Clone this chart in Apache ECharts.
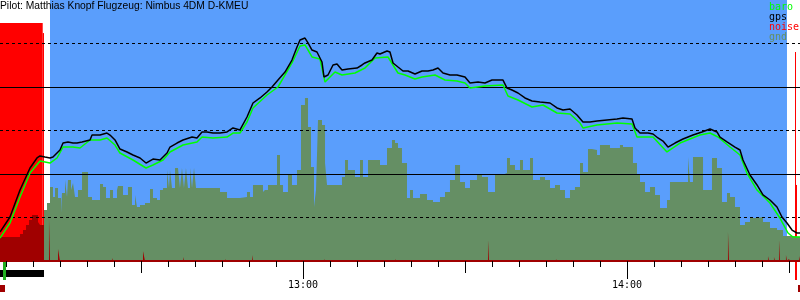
<!DOCTYPE html>
<html><head><meta charset="utf-8">
<script src="https://cdn.jsdelivr.net/npm/echarts@6/dist/echarts.min.js"></script>
<style>html,body{margin:0;padding:0;background:#fff}#c{width:800px;height:300px}</style>
</head><body><div id="c"></div>
<script>
// ---- data (time = minutes after 12:00, altitude in metres) ----
const titleText = 'Pilot: Matthias Knopf Flugzeug: Nimbus 4DM D-KMEU';
const legendNames = ['baro', 'gps', 'noise', 'gnd'];
const timeRange = [3.89, 152.04];
const minorTicks = [5,10,15,20,25,35,40,45,50,55,65,70,75,80,85,95,100,105,110,115,125,130,135,140,145];
const halfHourTicks = [30, 90, 150];
const hourTicks = [60, 120];
const hourLabels = ['13:00', '14:00'];
const altLabels = [1000, 2000];

const gpsTime = [3.89,5.74,7.59,9.45,10.74,11.30,12.22,13.15,13.70,15.00,
 15.56,16.48,17.41,18.15,19.08,20.56,20.93,22.41,23.70,24.26,
 25.19,26.11,27.41,28.52,29.82,30.93,32.22,33.52,34.82,35.37,
 36.67,37.78,39.45,40.37,41.30,42.22,43.33,44.63,45.93,47.04,
 48.33,49.63,50.74,52.04,53.33,54.26,55.37,56.67,57.96,58.89,
 59.45,60.37,60.93,61.67,62.59,63.52,63.89,64.63,65.56,66.30,
 67.22,68.33,70.00,70.93,71.48,72.78,73.70,74.26,75.56,76.11,
 76.67,77.59,78.52,79.45,80.74,82.04,83.15,84.08,85.00,85.93,
 87.22,88.52,90.00,90.93,92.41,93.70,95.00,97.04,97.78,98.70,
 99.82,101.11,102.41,103.89,105.74,107.04,108.15,109.45,110.74,111.85,
 113.15,114.45,116.30,118.15,119.26,120.93,121.48,122.41,123.89,124.82,
 125.74,126.67,127.59,128.89,130.37,132.22,133.89,135.37,136.67,137.22,
 138.52,140.00,140.93,141.48,142.78,144.08,145.19,146.48,147.78,148.70,
 149.63,150.56,151.48,152.04];
const gpsAlt = [333,506,816,1069,1184,1207,1195,1184,1195,1276,
 1356,1368,1356,1356,1368,1391,1448,1448,1471,1448,
 1391,1287,1253,1218,1184,1126,1172,1161,1241,1310,
 1356,1391,1425,1414,1483,1483,1471,1471,1483,1529,
 1506,1655,1816,1874,1942,2000,2080,2172,2310,2460,
 2540,2563,2506,2425,2402,2287,2115,2138,2253,2264,
 2195,2207,2218,2253,2276,2310,2391,2379,2414,2402,
 2276,2230,2184,2184,2149,2184,2184,2195,2218,2161,
 2138,2138,2115,2046,2057,2046,2080,2080,1988,1965,
 1931,1874,1839,1828,1816,1759,1736,1747,1678,1598,
 1598,1609,1621,1632,1644,1632,1529,1471,1471,1460,
 1414,1379,1310,1356,1402,1448,1483,1517,1483,1425,
 1368,1310,1276,1161,989,874,759,701,621,506,
 437,356,322,322];

const baroTime = [3.89,5.74,7.59,9.45,11.30,13.15,14.45,15.56,17.41,18.70,
 20.56,22.41,23.70,25.19,26.11,28.52,30.93,32.22,34.08,35.37,
 37.78,40.37,41.30,43.33,45.93,47.04,48.33,49.63,50.74,53.33,
 55.37,57.96,59.45,60.37,61.67,63.15,64.08,65.93,67.22,69.63,
 71.48,73.33,75.74,77.59,78.89,80.74,82.04,84.45,86.30,88.52,
 90.00,90.93,93.70,97.04,97.96,99.82,102.41,104.45,107.04,109.45,
 111.30,111.85,114.45,118.15,120.93,121.85,124.82,127.41,129.82,133.52,
 135.37,136.85,139.08,140.93,142.22,144.08,146.48,148.33,149.82,150.74,
 152.04];
const baroAlt = [264,437,736,1011,1149,1126,1184,1310,1310,1299,
 1391,1391,1414,1333,1241,1161,1069,1103,1161,1253,
 1333,1368,1425,1414,1425,1471,1471,1598,1759,1908,
 2000,2276,2471,2483,2345,2322,2057,2172,2138,2161,
 2218,2333,2345,2161,2138,2092,2115,2138,2080,2069,
 2046,1988,2011,2023,1897,1851,1770,1793,1701,1690,
 1586,1529,1563,1586,1575,1425,1425,1253,1356,1448,
 1471,1425,1310,1218,1011,816,667,494,322,276,
 276];

// ground elevation samples [time, metres]
const gndSamples = [[12.04,586],[12.59,667],[13.15,851],[13.70,736],[14.08,839],[14.63,724],[15.19,552],[15.37,782],[15.93,931],[16.30,736],
 [16.48,931],[17.04,816],[17.41,897],[17.78,736],[18.33,816],[19.08,1023],[20.19,736],[20.93,701],[22.41,885],[22.96,851],
 [23.52,724],[24.26,816],[24.82,724],[25.56,816],[25.74,862],[26.67,759],[27.59,851],[28.33,644],[28.89,759],[29.26,621],
 [29.82,644],[30.74,667],[31.67,828],[32.22,724],[32.96,701],[33.52,816],[34.08,839],[34.82,1046],[35.19,839],[35.37,1046],
 [35.74,839],[36.30,1069],[36.85,1080],[37.22,839],[37.59,1069],[37.96,839],[38.33,1069],[38.70,839],[39.08,1069],[39.45,839],
 [39.82,1069],[40.19,839],[44.63,793],[45.93,724],[48.33,736],[49.63,793],[50.19,736],[50.74,874],[52.59,793],[52.96,816],
 [53.52,874],[55.19,1218],[55.74,874],[56.30,793],[57.22,989],[57.96,874],[58.89,1046],[59.63,1793],[60.37,1874],[60.93,1540],
 [61.48,1080],[62.04,621],[62.41,816],[62.78,1621],[63.52,1563],[64.08,1126],[64.45,874],[67.22,966],[67.78,1161],[68.33,1046],
 [69.63,966],[70.56,1161],[71.11,966],[72.04,1161],[74.26,1103],[75.56,1299],[76.48,1391],[77.04,1356],[77.59,1299],[78.33,1126],
 [79.26,724],[79.82,816],[80.37,724],[81.67,770],[82.96,701],[84.08,678],[85.37,736],[86.30,793],[87.22,931],[88.15,1103],
 [89.08,908],[90.00,839],[90.93,931],[92.22,989],[93.15,966],[94.26,793],[95.56,989],[96.85,1011],[97.78,1184],[98.33,1103],
 [99.26,1046],[100.19,1161],[100.74,1046],[102.04,1184],[102.59,931],[103.89,966],[104.82,931],[105.74,839],[106.67,874],[107.59,816],
 [108.52,724],[109.45,816],[110.37,851],[111.30,1126],[111.85,1023],[112.78,1287],[113.52,1276],[114.45,1218],[115.00,1333],[116.85,1299],
 [118.70,1333],[119.26,1310],[121.11,1126],[121.85,989],[122.41,908],[123.33,793],[124.26,851],[125.19,759],[126.11,609],[127.41,701],
 [127.96,908],[131.30,1195],[131.67,908],[132.22,1195],[134.08,816],[135.74,1184],[136.67,1069],[137.59,678],[138.52,782],[139.08,736],
 [140.00,621],[140.93,414],[141.85,448],[142.78,494],[144.08,506],[145.19,448],[146.48,379],[147.78,356],[148.89,287],[150.74,276],
 [152.04,276]];

// noise level samples [time, level]
const noiseSamples = [[3.89,276],[7.59,310],[8.15,356],[8.70,414],[9.26,471],[9.82,529],[10.93,448],[11.30,414],[12.04,0],
 [12.96,494],[13.15,0],[14.63,138],[15.00,0],[24.63,35],[24.82,0],[30.37,115],[30.74,0],[37.78,46],[37.96,0],
 [45.56,23],[45.74,0],[50.56,69],[50.74,0],[63.89,23],[64.08,0],[77.04,23],[77.22,0],[94.26,241],[94.45,0],
 [106.85,23],[107.04,0],[138.70,333],[138.89,0],[146.11,57],[146.30,0],[147.22,46],[147.41,0],[148.15,241],[148.33,0],
 [149.44,69],[149.63,0],[150.00,23],[150.19,0],[151.85,57],[152.04,57]];

// engine running periods [from, to, level]
const engineFrom = [3.89, 11.80, 151.11, 151.11];
const engineTo = [11.80, 12.04, 151.30, 151.48];
const engineLevel = [2736, 2620, 2402, 874];
// flight window (blue)
const flightWindow = [13.15, 149.63];
// timeline marks below the axis
const takeoffMark = [4.45, 5.00];
const engineBar = [3.89, 12.04];
const startMark = [3.89, 4.82];
const landingMark = [151.11, 151.48];
const endMark = [151.67, 152.04];

// ---- styles ----
const C = {blue:'#5a9efc', red:'#ff0000', dark:'#a00000', gnd:'#658f64', baro:'#00ff00', gps:'#000000', takeoff:'#22b022'};
const legendColors = [C.baro, '#000000', C.red, C.gnd];
const mono = 'DejaVu Sans Mono';

const chart = echarts.init(document.getElementById('c'), null, {renderer:'canvas'});
const pairs = (ts, vs) => ts.map((t, i) => [t, vs[i]]);
const band = (from, to, y0, y1, color) => [{xAxis: from, yAxis: y0, itemStyle: {color: color, opacity: 1}}, {xAxis: to, yAxis: y1}];

const bgAreas = [band(flightWindow[0], flightWindow[1], 0, 3000, C.blue)];
engineFrom.forEach((f, i) => bgAreas.push(band(f, engineTo[i], 0, engineLevel[i], C.red)));

const tlAreas = [
  band(engineBar[0], engineBar[1], 9, 16, '#000000'),
  band(takeoffMark[0], takeoffMark[1], 0, 19, C.takeoff),
  band(startMark[0], startMark[1], 24, 31, C.dark),
  band(landingMark[0], landingMark[1], 0, 19, C.red),
  band(endMark[0], endMark[1], 24, 31, C.dark)
];

const xBase = {type: 'value', gridIndex: 0, min: timeRange[0], max: timeRange[1], position: 'bottom', z: 3,
  axisLine: {show: false}, axisLabel: {show: false}, splitLine: {show: false}};

const option = {
  animation: false,
  backgroundColor: '#ffffff',
  title: {text: titleText, left: 0, top: 1, padding: 0, z: 10,
    textStyle: {fontFamily: 'Liberation Sans', fontSize: 10.3, fontWeight: 'normal', color: '#000'}},
  legend: {orient: 'vertical', left: 764, top: 2.5, padding: 0, itemGap: 0, itemWidth: 0, itemHeight: 10,
    icon: 'rect', selectedMode: false, z: 10,
    textStyle: {fontFamily: mono, fontSize: 10, lineHeight: 10, padding: 0},
    data: legendNames.map((n, i) => ({name: n, textStyle: {color: legendColors[i]}, itemStyle: {opacity: 0}}))},
  grid: [
    {left: 0, right: 0, top: 0, height: 261, outerBoundsMode: 'none'},
    {left: 0, right: 0, top: 261, height: 39, outerBoundsMode: 'none'}
  ],
  xAxis: [
    Object.assign({}, xBase, {axisLine: {show: true, onZero: false, lineStyle: {color: C.dark, width: 2}},
      axisTick: {show: true, length: 6, customValues: minorTicks, lineStyle: {color: '#000', width: 1}}}),
    Object.assign({}, xBase, {axisTick: {show: true, length: 12, customValues: halfHourTicks, lineStyle: {color: '#000', width: 1}}}),
    Object.assign({}, xBase, {axisTick: {show: true, length: 18, customValues: hourTicks, lineStyle: {color: '#000', width: 1}},
      axisLabel: {show: true, customValues: hourTicks, margin: 19, fontFamily: mono, fontSize: 10, color: '#000',
        formatter: v => hourLabels[hourTicks.indexOf(v)] || ''}}),
    {type: 'value', gridIndex: 1, min: timeRange[0], max: timeRange[1], show: false}
  ],
  yAxis: [
    {type: 'value', gridIndex: 0, min: 0, max: 3000, interval: 500, z: 3,
      axisLine: {show: false}, axisTick: {show: false}, axisLabel: {show: false},
      splitLine: {show: true, showMinLine: false, showMaxLine: false, lineStyle: {color: '#000', width: 1, type: [3, 3]}}},
    {type: 'value', gridIndex: 0, min: 0, max: 3000, interval: 1000, z: 4,
      axisLine: {show: false}, axisTick: {show: false},
      axisLabel: {show: true, inside: true, margin: 0, align: 'left', verticalAlign: 'top', fontFamily: mono, fontSize: 10, color: '#000',
        formatter: v => altLabels.indexOf(v) >= 0 ? String(v) : ''},
      splitLine: {show: true, showMinLine: false, showMaxLine: false, lineStyle: {color: '#000', width: 1}}},
    {type: 'value', gridIndex: 1, min: 0, max: 39, inverse: true, show: false}
  ],
  series: [
    {type: 'line', name: 'bg', xAxisIndex: 0, yAxisIndex: 0, z: 0, silent: true, symbol: 'none',
      data: [[timeRange[0], 0]], lineStyle: {width: 0, opacity: 0},
      markArea: {silent: true, data: bgAreas}},
    {type: 'line', name: 'gnd', xAxisIndex: 0, yAxisIndex: 0, z: 1, step: 'end', symbol: 'none', silent: true,
      color: C.gnd, data: gndSamples, lineStyle: {width: 0, opacity: 0}, areaStyle: {color: C.gnd, opacity: 1}},
    {type: 'line', name: 'noise', xAxisIndex: 0, yAxisIndex: 0, z: 2, step: 'end', symbol: 'none', silent: true,
      color: C.dark, data: noiseSamples, lineStyle: {width: 0, opacity: 0}, areaStyle: {color: C.dark, opacity: 1}},
    {type: 'line', name: 'baro', xAxisIndex: 0, yAxisIndex: 0, z: 5, symbol: 'none', silent: true,
      color: C.baro, data: pairs(baroTime, baroAlt), lineStyle: {color: C.baro, width: 1.5}},
    {type: 'line', name: 'gps', xAxisIndex: 0, yAxisIndex: 0, z: 6, symbol: 'none', silent: true,
      color: C.gps, data: pairs(gpsTime, gpsAlt), lineStyle: {color: C.gps, width: 1.5}},
    {type: 'line', name: 'timeline', xAxisIndex: 3, yAxisIndex: 2, z: 2, symbol: 'none', silent: true,
      data: [[timeRange[0], 0]], lineStyle: {width: 0, opacity: 0},
      markArea: {silent: true, data: tlAreas}}
  ]
};
chart.setOption(option);
</script></body></html>
